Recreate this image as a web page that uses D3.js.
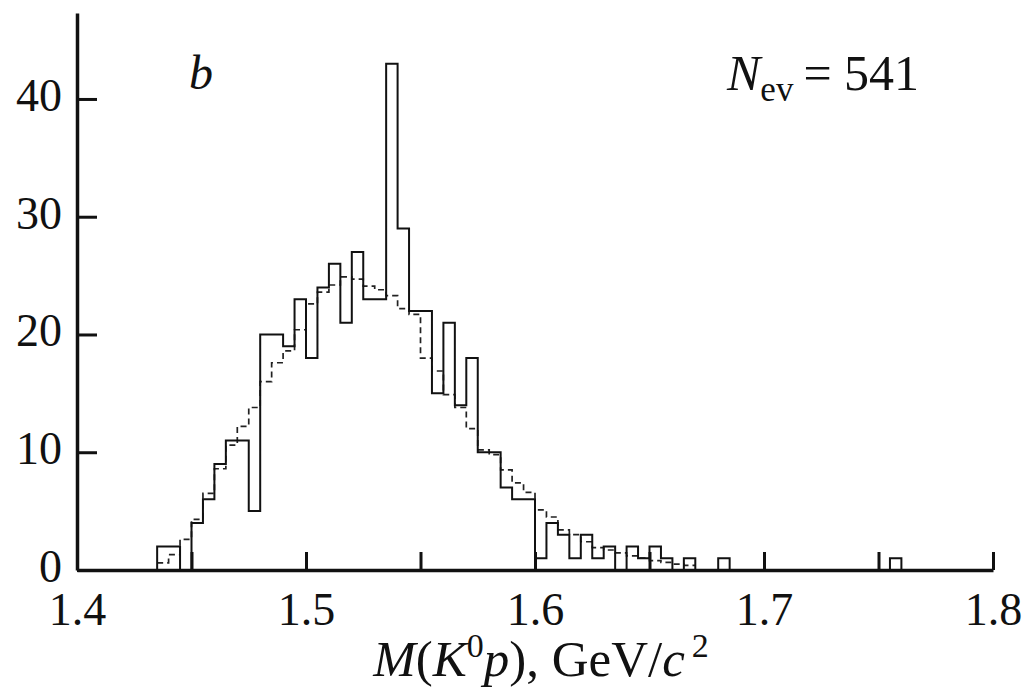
<!DOCTYPE html>
<html>
<head>
<meta charset="utf-8">
<script src="https://cdn.jsdelivr.net/npm/d3@7"></script>
<style>
  html, body { margin: 0; padding: 0; background: #fff; }
  svg { display: block; }
  text { font-family: "Liberation Serif", "DejaVu Serif", serif; fill: #111; }
</style>
</head>
<body>
<svg id="chart" width="1025" height="691"></svg>
<script>
// ---- data ----
const binWidth = 0.005;
// lower edges of histogram bins, GeV/c^2
const binLow = [1.435,1.440,1.445,1.450,1.455,1.460,1.465,1.470,1.475,1.480,
                1.485,1.490,1.495,1.500,1.505,1.510,1.515,1.520,1.525,1.530,
                1.535,1.540,1.545,1.550,1.555,1.560,1.565,1.570,1.575,1.580,
                1.585,1.590,1.595,1.600,1.605,1.610,1.615,1.620,1.625,1.630,
                1.635,1.640,1.645,1.650,1.655,1.660,1.665,1.670,1.675,1.680,
                1.685,1.690,1.695,1.700,1.705,1.710,1.715,1.720,1.725,1.730,
                1.735,1.740,1.745,1.750,1.755];
// observed events per bin (solid histogram), total 541
const counts = [2,2,0,4,6,9,11,11,5,20,
                20,19,23,18,24,26,21,27,23,23,
                43,29,22,22,15,21,14,18,10,10,
                7,6,6,1,4,3,1,3,1,2,
                0,2,1,2,1,0,1,0,0,1,
                0,0,0,0,0,0,0,0,0,0,
                0,0,0,0,1];
// background estimate (dashed histogram), first 47 bins
const background = [0.6,1.3,2.6,4.3,6.5,8.6,10.6,12.2,13.8,16.0,
                    17.6,18.6,20.4,22.6,23.6,24.2,24.9,24.7,24.1,23.8,
                    23.3,22.2,21.7,18.0,16.9,14.9,13.8,12.0,10.2,9.8,
                    8.5,7.4,6.6,5.1,4.5,3.4,3.0,2.4,1.9,1.7,
                    1.45,1.2,1.0,0.8,0.65,0.5,0.4];
const xTicks = [1.40,1.45,1.50,1.55,1.60,1.65,1.70,1.75,1.80];
const xTickLabels = ["1.4","","1.5","","1.6","","1.7","","1.8"];
const yTicks = [0,10,20,30,40];
const yTickLabels = ["0","10","20","30","40"];
const panelLabel = "b";
const nEvents = 541;

// ---- scales ----
const svg = d3.select("#chart");
const x = d3.scaleLinear().domain([1.4, 1.8]).range([77, 993]);
const y = d3.scaleLinear().domain([0, 47.3]).range([570, 13]);

// ---- histograms ----
function stepPoints(lows, vals, closeToZero) {
  const pts = [];
  if (closeToZero) pts.push([lows[0], 0]);
  lows.forEach((lo, i) => pts.push([lo, vals[i]]));
  const last = vals.length - 1;
  pts.push([lows[last] + binWidth, vals[last]]);
  if (closeToZero) pts.push([lows[last] + binWidth, 0]);
  return pts;
}
const stepLine = d3.line()
  .x(d => x(d[0]))
  .y(d => y(d[1]))
  .curve(d3.curveStepAfter);

svg.append("path")
  .attr("d", stepLine(stepPoints(binLow.slice(0, background.length), background, false)))
  .attr("fill", "none")
  .attr("stroke", "#222")
  .attr("stroke-width", 1.7)
  .attr("stroke-dasharray", "6,4");

svg.append("path")
  .attr("d", stepLine(stepPoints(binLow, counts, true)))
  .attr("fill", "none")
  .attr("stroke", "#111")
  .attr("stroke-width", 2);

// ---- axes ----
const xAxis = d3.axisBottom(x)
  .tickValues(xTicks)
  .tickFormat((d, i) => xTickLabels[i])
  .tickSizeInner(-18)
  .tickSizeOuter(0);
const gx = svg.append("g").attr("transform", "translate(0,570)").call(xAxis);
gx.select(".domain").attr("stroke", "#111").attr("stroke-width", 3.5);
gx.selectAll(".tick line").attr("stroke", "#111").attr("stroke-width", 3);
gx.selectAll(".tick text")
  .attr("y", 55).attr("dy", null)
  .style("font-family", '"Liberation Serif", serif')
  .style("font-size", "46px")
  .attr("fill", "#111");

const yAxis = d3.axisLeft(y)
  .tickValues(yTicks)
  .tickFormat((d, i) => yTickLabels[i])
  .tickSizeInner(-20)
  .tickSizeOuter(0);
const gy = svg.append("g").attr("transform", "translate(77,0)").call(yAxis);
gy.select(".domain").attr("stroke", "#111").attr("stroke-width", 3.5);
gy.selectAll(".tick line").attr("stroke", "#111").attr("stroke-width", 3);
gy.selectAll(".tick text")
  .attr("x", -15).attr("dy", "0.25em")
  .style("font-family", '"Liberation Serif", serif')
  .style("font-size", "46px")
  .attr("fill", "#111");

// ---- annotations ----
svg.append("text")
  .attr("x", 189).attr("y", 89)
  .style("font-size", "48px").style("font-style", "italic")
  .text(panelLabel);

const nev = svg.append("text").attr("x", 727).attr("y", 90).style("font-size", "50px");
nev.append("tspan").style("font-style", "italic").text("N");
nev.append("tspan").attr("dy", 11).style("font-size", "35px").text("ev");
nev.append("tspan").attr("dy", -11).text("\u2009= " + nEvents);

// x-axis title: M(K0p), GeV/c2
const title = svg.append("text")
  .attr("x", 541).attr("y", 676)
  .attr("text-anchor", "middle")
  .style("font-size", "51px");
title.append("tspan").style("font-style", "italic").text("M");
title.append("tspan").text("(");
title.append("tspan").style("font-style", "italic").text("K");
title.append("tspan").attr("dy", -19).style("font-size", "34px").text("0");
title.append("tspan").attr("dy", 19).style("font-style", "italic").text("p");
title.append("tspan").text("), GeV/");
title.append("tspan").style("font-style", "italic").text("c");
title.append("tspan").attr("dy", -19).style("font-size", "34px").text("\u20092");
</script>
</body>
</html>
